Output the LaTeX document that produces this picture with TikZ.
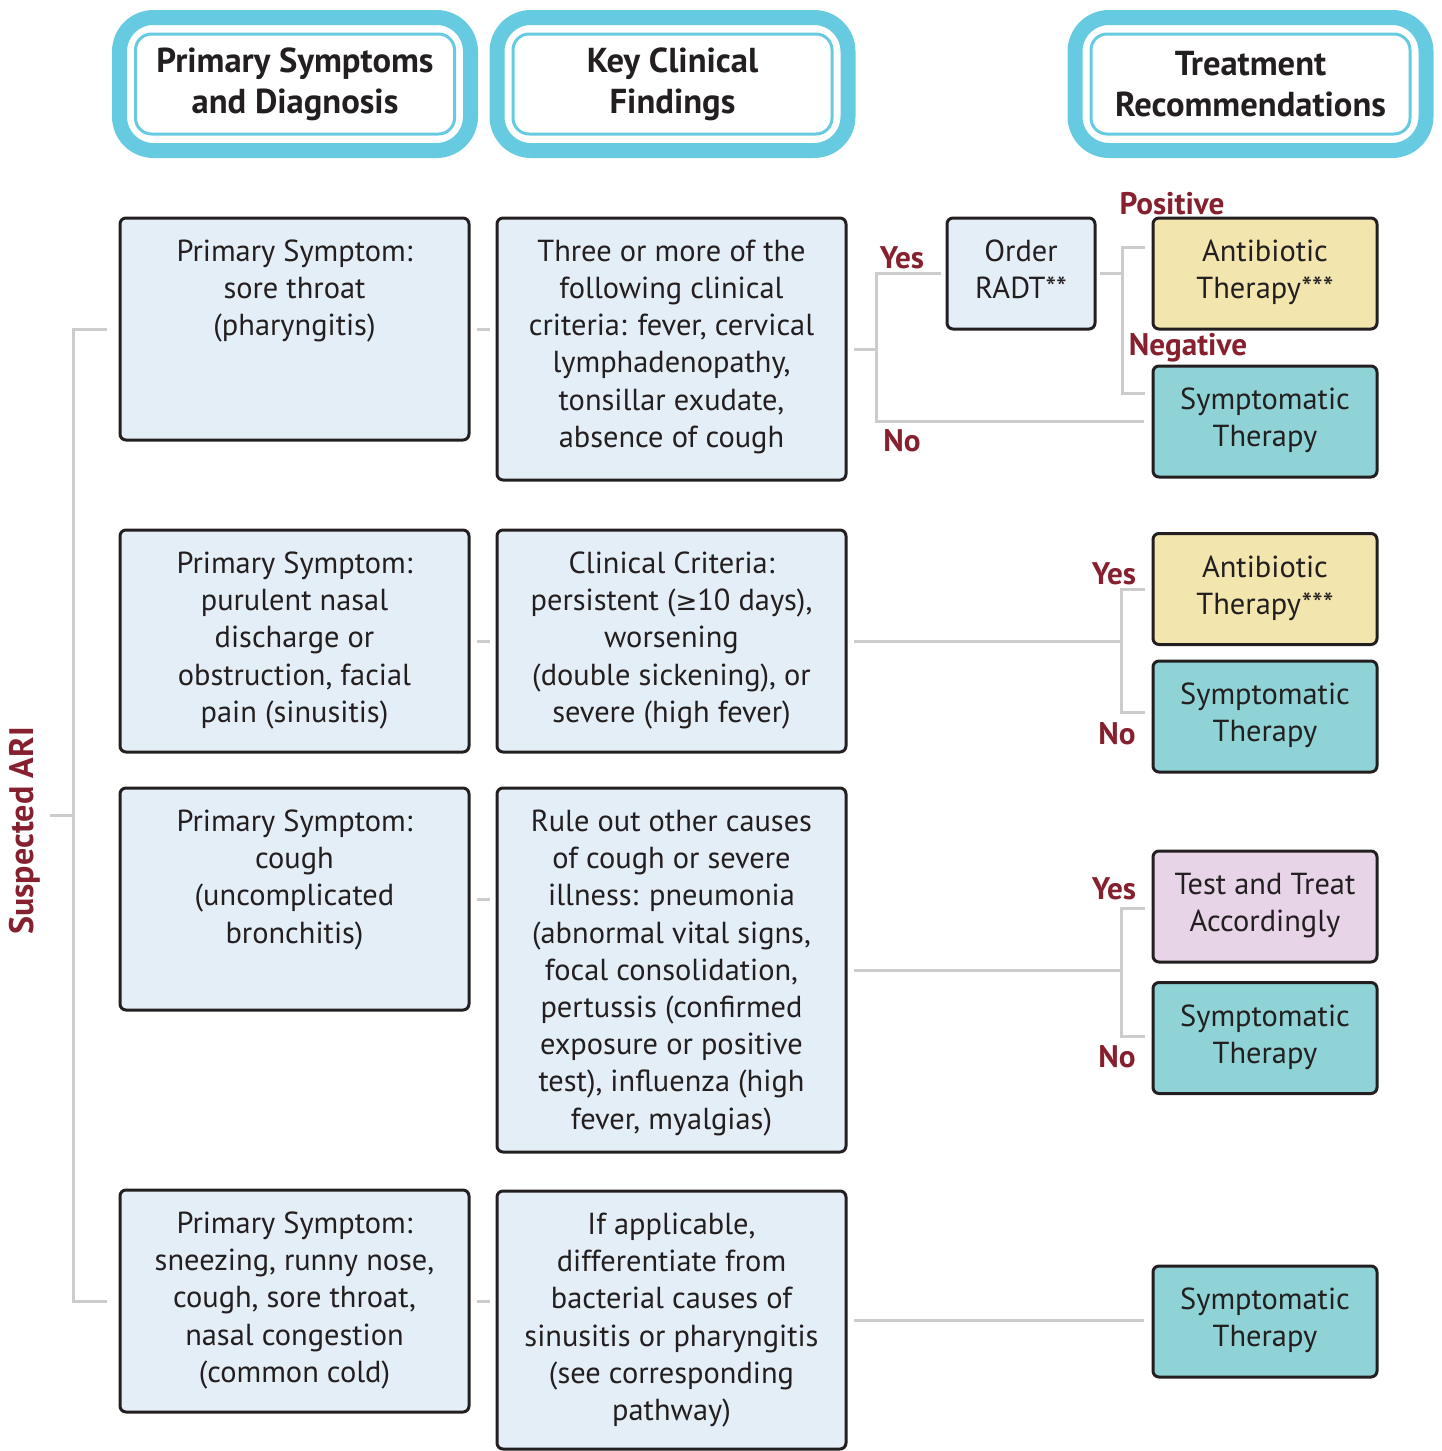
\documentclass[tikz,border=0pt]{standalone}
\usepackage{fontspec}
\setmainfont{PT Sans}
\newfontfamily\symfont{DejaVu Sans}
\usetikzlibrary{positioning}
\definecolor{hdrcyan}{HTML}{66CBE0}
\definecolor{boxblue}{HTML}{E3EEF7}
\definecolor{abxyellow}{HTML}{F2E5AE}
\definecolor{symteal}{HTML}{8FD3D6}
\definecolor{testpink}{HTML}{E7D4E7}
\definecolor{linegray}{HTML}{CCCCCC}
\definecolor{ansred}{HTML}{86202F}
\definecolor{edgedark}{HTML}{231F20}

\begin{document}
\begin{tikzpicture}[x=0.5pt,y=-0.5pt,
  hdrout/.style={draw=hdrcyan, line width=7.5pt, rounded corners=17pt,
    minimum width=175.5pt, minimum height=66.5pt},
  hdrin/.style={draw=hdrcyan, line width=1.5pt, rounded corners=8pt,
    minimum width=159.5pt, minimum height=50pt, align=center,
    font=\fontsize{17.3}{20.5}\selectfont\bfseries, text=edgedark},
  box/.style={draw=edgedark, line width=1.5pt, rounded corners=3pt, fill=boxblue},
  wide/.style={box, minimum width=174.5pt},
  narrow/.style={box, minimum width=112pt, minimum height=55.5pt},
  txt/.style={align=center, inner sep=0pt, text=edgedark,
    font=\fontsize{15.2}{18.6}\selectfont},
  ans/.style={inner sep=0pt, text=ansred, font=\fontsize{15.6}{18}\selectfont\bfseries},
  conn/.style={draw=linegray, line width=1.5pt},
]
\useasboundingbox (0,0) rectangle (1441,1451);

% column headers
\node[hdrout] (h1) at (295,84) {};
\node[hdrin] (h1t) at (h1) {Primary Symptoms\\and Diagnosis};
\node[hdrout] (h2) at (672.5,84) {};
\node[hdrin] (h2t) at (h2) {Key Clinical\\Findings};
\node[hdrout] (h3) at (1250.5,84) {};
\node[hdrin] (h3t) at (h3) {Treatment\\Recommendations};

% primary symptoms
\node[wide, minimum height=111pt] (s1) at (294.5,329) {};
\node[wide, minimum height=111pt] (s2) at (294.5,641) {};
\node[wide, minimum height=111pt] (s3) at (294.5,899) {};
\node[wide, minimum height=111pt] (s4) at (294.5,1301) {};
\node[txt, below=11.5pt of s1.north] (s1t) {Primary Symptom:\\sore throat\\(pharyngitis)};
\node[txt, below=11.5pt of s2.north] (s2t) {Primary Symptom:\\purulent nasal\\discharge or\\obstruction, facial\\pain (sinusitis)};
\node[txt, below=11.5pt of s3.north] (s3t) {Primary Symptom:\\cough\\(uncomplicated\\bronchitis)};
\node[txt, below=11.5pt of s4.north] (s4t) {Primary Symptom:\\sneezing, runny nose,\\cough, sore throat,\\nasal congestion\\(common cold)};

% key clinical findings
\node[wide, minimum height=131pt] (c1) at (671.5,349) {};
\node[wide, minimum height=111pt] (c2) at (671.5,641) {};
\node[wide, minimum height=182pt] (c3) at (671.5,970) {};
\node[wide, minimum height=129pt] (c4) at (671.5,1320) {};
\node[txt, below=11.5pt of c1.north] (c1t) {Three or more of the\\following clinical\\criteria: fever, cervical\\lymphadenopathy,\\tonsillar exudate,\\absence of cough};
\node[txt, below=11.5pt of c2.north] (c2t) {Clinical Criteria:\\persistent ({\symfont\fontsize{13}{18.6}\selectfont ≥}10 days),\\worsening\\(double sickening), or\\severe (high fever)};
\node[txt, below=11.5pt of c3.north] (c3t) {Rule out other causes\\of cough or severe\\illness: pneumonia\\(abnormal vital signs,\\focal consolidation,\\pertussis (confirmed\\exposure or positive\\test), influenza (high\\fever, myalgias)};
\node[txt, below=11.5pt of c4.north] (c4t) {If applicable,\\differentiate from\\bacterial causes of\\sinusitis or pharyngitis\\(see corresponding\\pathway)};

% treatment
\node[box, minimum width=74pt, minimum height=55.5pt] (radt) at (1021,273.5) {};
\node[txt, below=11.5pt of radt.north] (radtt) {Order\\RADT**};
\node[narrow, fill=abxyellow] (t1a) at (1265,273.5) {};
\node[narrow, fill=symteal] (t1s) at (1265,421.5) {};
\node[narrow, fill=abxyellow] (t2a) at (1265,589) {};
\node[narrow, fill=symteal] (t2s) at (1265,716.5) {};
\node[narrow, fill=testpink] (t3a) at (1265,906.5) {};
\node[narrow, fill=symteal] (t3s) at (1265,1038) {};
\node[narrow, fill=symteal] (t4s) at (1265,1321.5) {};
\node[txt, below=11.5pt of t1a.north] (t1at) {Antibiotic\\Therapy***};
\node[txt, below=11.5pt of t1s.north] (t1st) {Symptomatic\\Therapy};
\node[txt, below=11.5pt of t2a.north] (t2at) {Antibiotic\\Therapy***};
\node[txt, below=11.5pt of t2s.north] (t2st) {Symptomatic\\Therapy};
\node[txt, below=11.5pt of t3a.north] (t3at) {Test and Treat\\Accordingly};
\node[txt, below=11.5pt of t3s.north] (t3st) {Symptomatic\\Therapy};
\node[txt, below=11.5pt of t4s.north] (t4st) {Symptomatic\\Therapy};

% suspected ARI bracket
\node[ans, rotate=90, font=\fontsize{17}{20}\selectfont\bfseries] (ari) at (25,831) {Suspected ARI};
\coordinate (jl) at (73,815);
\coordinate (jl0) at (50,815);
\draw[conn] ([xshift=-6pt]s1.west) -| (jl) |- ([xshift=-6pt]s4.west);
\draw[conn] (jl) -- (jl0);

% symptom to findings
\draw[conn] ([xshift=3pt]s1.east) -- ([xshift=-3pt]s1.east -| c1.west);
\draw[conn] ([xshift=3pt]s2.east) -- ([xshift=-3pt]s2.east -| c2.west);
\draw[conn] ([xshift=3pt]s3.east) -- ([xshift=-3pt]s3.east -| c3.west);
\draw[conn] ([xshift=3pt]s4.east) -- ([xshift=-3pt]s4.east -| c4.west);

% findings to treatment
\coordinate[right=14.5pt of c1.east] (j1);
\draw[conn] ([xshift=3pt]c1.east) -- (j1);
\draw[conn] ([xshift=-2.5pt]radt.west) -| (j1) |- ([xshift=-4pt]t1s.west);
\coordinate[right=13pt of radt.east] (j2);
\draw[conn] ([xshift=1.5pt]radt.east) -- (j2);
\draw[conn] ([xshift=-3.5pt,yshift=13pt]t1a.west) -| (j2) |- ([xshift=-3.5pt,yshift=14pt]t1s.west);
\coordinate[right=137pt of c2.east] (j3);
\draw[conn] ([xshift=3pt]c2.east) -- (j3);
\draw[conn] ([xshift=-3.5pt]t2a.west) -| (j3) |- ([xshift=-3.5pt,yshift=2pt]t2s.west);
\coordinate[right=137pt of c3.east] (j4);
\draw[conn] ([xshift=3pt]c3.east) -- (j4);
\draw[conn] ([xshift=-3.5pt,yshift=-0.75pt]t3a.west) -| (j4) |- ([xshift=-3.5pt,yshift=1pt]t3s.west);
\draw[conn] ([xshift=3pt]c4.east) -- ([xshift=-4pt]c4.east -| t4s.west);

% answers
\node[ans] (y1) at (902,258) {Yes};
\node[ans] (n1) at (902,441) {No};
\node[ans] (pos) at (1172,204) {Positive};
\node[ans] (neg) at (1188,348) {Negative};
\node[ans] (y2) at (1114,574) {Yes};
\node[ans] (n2) at (1117,734) {No};
\node[ans] (y3) at (1114,889) {Yes};
\node[ans] (n3) at (1117,1057) {No};
\end{tikzpicture}
\end{document}
